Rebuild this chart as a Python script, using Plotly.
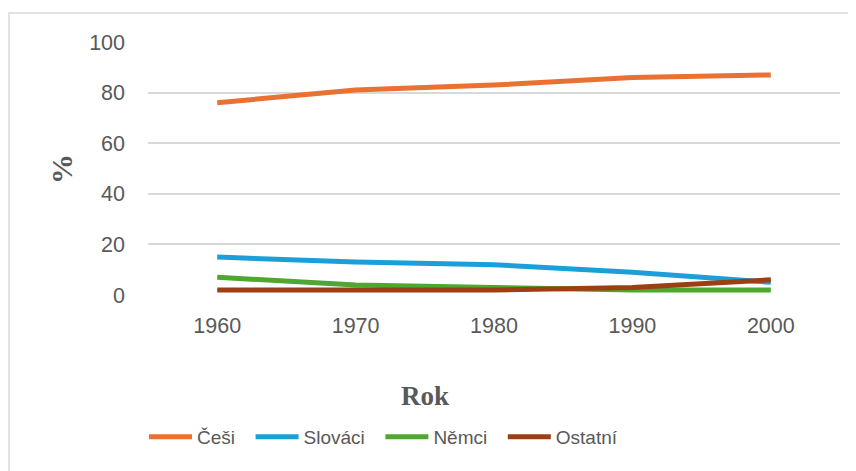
import plotly.graph_objects as go

years = ["1960", "1970", "1980", "1990", "2000"]
cesi = [76, 81, 83, 86, 87]
slovaci = [15, 13, 12, 9, 5]
nemci = [7, 4, 3, 2, 2]
ostatni = [2, 2, 2, 3, 6]
series_names = ["Češi", "Slováci", "Němci", "Ostatní"]
colors = ["#E97132", "#1A9FD8", "#4EA72E", "#9C3F12"]
y_ticks = [0, 20, 40, 60, 80, 100]

# page has an 8px body margin; work in screen coords and shift
OFF = 8
W, H = 856 - OFF, 471 - OFF
L, R, T, B = 148 - OFF, 16, 42 - OFF, 176
pw, ph = W - L - R, H - T - B

def px(x):
    return (x - OFF - L) / pw

def py(y):
    return (H - B - (y - OFF)) / ph

fig = go.Figure()
for name, vals, col in zip(series_names, [cesi, slovaci, nemci, ostatni], colors):
    fig.add_trace(go.Scatter(x=years, y=vals, name=name + "\u00a0\u00a0", mode="lines",
                             line=dict(color=col, width=5)))

tick_font = dict(family="Liberation Sans, Arial, sans-serif", size=21.5, color="#595959")

fig.update_layout(
    width=W, height=H,
    margin=dict(l=L, r=R, t=T, b=B),
    paper_bgcolor="white", plot_bgcolor="white",
    showlegend=True,
    legend=dict(orientation="h", x=px(144), xanchor="left", y=py(437), yanchor="middle",
                font=dict(family="Liberation Sans, Arial, sans-serif", size=19, color="#595959"),
                itemwidth=43, tracegroupgap=0),
    xaxis=dict(type="category", range=[-0.5, 4.5], showgrid=False, showline=False,
               zeroline=False, ticks="", tickfont=tick_font, ticklabelstandoff=15),
    yaxis=dict(range=[0, 100], tickvals=y_ticks, showgrid=True, gridcolor="#D9D9D9",
               gridwidth=1.5, zeroline=False, showline=False, ticks="",
               tickfont=tick_font, ticklabelstandoff=22),
    annotations=[
        dict(text="<b>Rok</b>", x=px(425), y=py(396), xref="paper", yref="paper",
             showarrow=False, xanchor="center", yanchor="middle",
             font=dict(family="Liberation Serif, Times New Roman, serif", size=27, color="#595959")),
        dict(text="<b>%</b>", x=px(61), y=py(169), xref="paper", yref="paper", textangle=-90,
             showarrow=False, xanchor="center", yanchor="middle",
             font=dict(family="Liberation Serif, Times New Roman, serif", size=30, color="#595959")),
    ],
    shapes=[
        dict(type="rect", xref="paper", yref="paper", x0=px(9), x1=px(870), y0=py(490), y1=py(13),
             line=dict(color="#D9D9D9", width=1.5), fillcolor="rgba(0,0,0,0)", layer="below"),
    ],
)

fig.write_html("out.html")
